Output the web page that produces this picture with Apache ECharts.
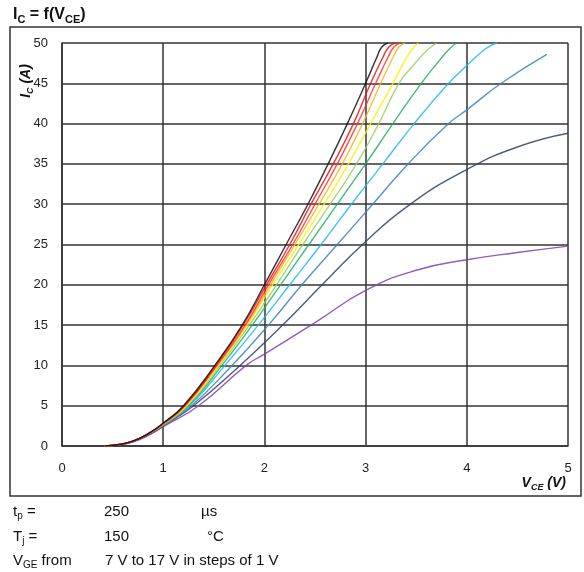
<!DOCTYPE html>
<html><head><meta charset="utf-8">
<script src="https://cdn.jsdelivr.net/npm/echarts@6/dist/echarts.min.js"></script>
<style>html,body{margin:0;padding:0;background:#fff}#c{width:584px;height:572px}</style>
</head><body><div id="c"></div>
<script>
// VCE (V), IC (A), one array per gate voltage
const vge7  = [[0.42,0],[0.55,0.12],[0.7,0.5],[0.85,1.3],[1.0,2.4],[1.35,5],[1.82,10],[2.0,11.4],[2.5,15.3],[3.0,19.3],[3.5,21.8],[4.0,23.1],[4.5,24.0],[5.0,24.8]];
const vge8  = [[0.42,0],[0.55,0.14],[0.7,0.55],[0.85,1.4],[1.0,2.5],[1.3,5],[1.76,10],[2.18,15],[2.57,20],[2.97,25],[3.42,29.8],[4.0,34.3],[4.5,37.1],[5.0,38.8]];
const vge9  = [[0.42,0],[0.55,0.14],[0.7,0.58],[0.85,1.45],[1.0,2.55],[1.28,5],[1.68,10],[2.04,15],[2.37,20],[2.72,25],[3.07,30],[3.42,35],[3.82,40],[4.0,41.7],[4.34,45],[4.79,48.6]];
const vge10 = [[0.42,0],[0.55,0.15],[0.7,0.6],[0.85,1.5],[1.0,2.6],[1.26,5],[1.61,10],[1.94,15],[2.25,20],[2.56,25],[2.86,30],[3.17,35],[3.48,40],[3.82,45],[4.0,47.2],[4.12,48.6],[4.21,49.5],[4.3,50]];
const vge11 = [[0.42,0],[0.55,0.15],[0.7,0.6],[0.85,1.5],[1.0,2.6],[1.25,5],[1.58,10],[1.88,15],[2.16,20],[2.44,25],[2.72,30],[3.0,35],[3.27,40],[3.55,45],[3.74,48],[3.83,49.3],[3.9,50]];
const vge12 = [[0.42,0],[0.55,0.15],[0.7,0.6],[0.85,1.5],[1.0,2.65],[1.24,5],[1.56,10],[1.85,15],[2.12,20],[2.38,25],[2.65,30],[2.91,35],[3.13,40],[3.33,45],[3.47,47.2],[3.6,49],[3.7,50]];
const vge13 = [[0.42,0],[0.55,0.15],[0.7,0.6],[0.85,1.5],[1.0,2.7],[1.23,5],[1.55,10],[1.83,15],[2.08,20],[2.34,25],[2.59,30],[2.83,35],[3.05,40],[3.27,45],[3.43,48.7],[3.52,50]];
const vge14 = [[0.42,0],[0.55,0.15],[0.7,0.6],[0.85,1.5],[1.0,2.7],[1.22,5],[1.54,10],[1.82,15],[2.06,20],[2.3,25],[2.54,30],[2.77,35],[2.97,40],[3.15,45],[3.27,48.2],[3.33,49.5],[3.39,50]];
const vge15 = [[0.42,0],[0.55,0.15],[0.7,0.6],[0.85,1.5],[1.0,2.75],[1.215,5],[1.53,10],[1.81,15],[2.04,20],[2.28,25],[2.5,30],[2.72,35],[2.92,40],[3.1,45],[3.22,48.2],[3.28,49.5],[3.34,50]];
const vge16 = [[0.42,0],[0.55,0.15],[0.7,0.6],[0.85,1.5],[1.0,2.8],[1.21,5],[1.52,10],[1.79,15],[2.02,20],[2.25,25],[2.46,30],[2.68,35],[2.88,40],[3.05,45],[3.17,48.2],[3.23,49.5],[3.29,50]];
const vge17 = [[0.42,0],[0.55,0.15],[0.7,0.6],[0.85,1.5],[1.0,2.85],[1.2,5],[1.51,10],[1.78,15],[2.0,20],[2.215,25],[2.43,30],[2.63,35],[2.82,40],[3.0,45],[3.11,48.2],[3.16,49.5],[3.22,50]];

const curveNames = ['7 V','8 V','9 V','10 V','11 V','12 V','13 V','14 V','15 V','16 V','17 V'];
const curveData  = [vge7, vge8, vge9, vge10, vge11, vge12, vge13, vge14, vge15, vge16, vge17];
const curveColors = ['#8040B0','#2A3F6A','#3A80C0','#20B8F0','#20B060','#98D060','#FFF000','#FFB020','#FF3030','#E81010','#111111'];

const xMin = 0, xMax = 5, xStep = 1;
const yMin = 0, yMax = 50, yStep = 5;

const FONT = '"Liberation Sans", Arial, sans-serif';
const chart = echarts.init(document.getElementById('c'), null, {renderer: 'canvas'});

const series = curveData.map((d, i) => ({
  name: curveNames[i], type: 'line', data: d, showSymbol: false,
  smooth: 0.5, clip: true, silent: true,
  lineStyle: {color: curveColors[i], width: 1.4, opacity: 0.85}
}));

const gridLine = {show: true, lineStyle: {color: '#333', width: 1.5}};

chart.setOption({
  animation: false,
  backgroundColor: '#fff',
  textStyle: {fontFamily: FONT},
  grid: {left: 62, right: 16, top: 43, bottom: 126, containLabel: false},
  xAxis: {
    type: 'value', min: xMin, max: xMax, interval: xStep,
    axisLine: {show: true, lineStyle: {color: '#333', width: 1.5}},
    axisTick: {show: false},
    splitLine: gridLine,
    axisLabel: {color: '#222', fontSize: 13, margin: 16, fontFamily: FONT}
  },
  yAxis: {
    type: 'value', min: yMin, max: yMax, interval: yStep,
    axisLine: {show: true, lineStyle: {color: '#333', width: 1.5}},
    axisTick: {show: false},
    splitLine: gridLine,
    axisLabel: {color: '#222', fontSize: 13, margin: 14, fontFamily: FONT}
  },
  series: series,
  graphic: [
    {type: 'rect', shape: {x: 10, y: 27, width: 571, height: 469}, style: {fill: 'none', stroke: '#333', lineWidth: 1.5}, silent: true, z: -1},
    {type: 'text', x: 13, y: 15, style: {
      text: '{m|I}{s|C}{m| = f(V}{s|CE}{m|)}', fill: '#111', verticalAlign: 'middle', align: 'left',
      rich: {m: {fontSize: 16, fontWeight: 'bold', fontFamily: FONT, lineHeight: 20, fill: '#111'},
             s: {fontSize: 11, fontWeight: 'bold', fontFamily: FONT, lineHeight: 11, verticalAlign: 'bottom', fill: '#111'}}
    }},
    {type: 'text', x: 26, y: 81, rotation: Math.PI / 2, style: {
      text: '{m|I}{s|C}{m| (A)}', fill: '#111', verticalAlign: 'middle', align: 'center',
      rich: {m: {fontSize: 14, fontWeight: 'bold', fontStyle: 'italic', fontFamily: FONT, lineHeight: 18, fill: '#111'},
             s: {fontSize: 9, fontWeight: 'bold', fontStyle: 'italic', fontFamily: FONT, lineHeight: 9, verticalAlign: 'bottom', fill: '#111'}}
    }},
    {type: 'text', x: 566, y: 483, style: {
      text: '{m|V}{s|CE}{m| (V)}', fill: '#111', verticalAlign: 'middle', align: 'right',
      rich: {m: {fontSize: 14, fontWeight: 'bold', fontStyle: 'italic', fontFamily: FONT, lineHeight: 18, fill: '#111'},
             s: {fontSize: 9, fontWeight: 'bold', fontStyle: 'italic', fontFamily: FONT, lineHeight: 9, verticalAlign: 'bottom', fill: '#111'}}
    }},
    {type: 'text', x: 13, y: 512, style: {text: '{m|t}{s|p}{m| =}', verticalAlign: 'middle', align: 'left',
      rich: {m: {fontSize: 15, fontFamily: FONT, lineHeight: 18, fill: '#111'}, s: {fontSize: 10, fontFamily: FONT, lineHeight: 10, verticalAlign: 'bottom', fill: '#111'}}}},
    {type: 'text', x: 104, y: 512, style: {text: '250', font: '15px ' + FONT, fill: '#111', verticalAlign: 'middle', align: 'left'}},
    {type: 'text', x: 201, y: 512, style: {text: 'µs', font: '15px ' + FONT, fill: '#111', verticalAlign: 'middle', align: 'left'}},
    {type: 'text', x: 13, y: 537, style: {text: '{m|T}{s|j}{m| =}', verticalAlign: 'middle', align: 'left',
      rich: {m: {fontSize: 15, fontFamily: FONT, lineHeight: 18, fill: '#111'}, s: {fontSize: 10, fontFamily: FONT, lineHeight: 10, verticalAlign: 'bottom', fill: '#111'}}}},
    {type: 'text', x: 104, y: 537, style: {text: '150', font: '15px ' + FONT, fill: '#111', verticalAlign: 'middle', align: 'left'}},
    {type: 'text', x: 207, y: 537, style: {text: '°C', font: '15px ' + FONT, fill: '#111', verticalAlign: 'middle', align: 'left'}},
    {type: 'text', x: 13, y: 561, style: {text: '{m|V}{s|GE}{m| from}', verticalAlign: 'middle', align: 'left',
      rich: {m: {fontSize: 15, fontFamily: FONT, lineHeight: 18, fill: '#111'}, s: {fontSize: 10, fontFamily: FONT, lineHeight: 10, verticalAlign: 'bottom', fill: '#111'}}}},
    {type: 'text', x: 105, y: 561, style: {text: '7 V to 17 V in steps of 1 V', font: '15px ' + FONT, fill: '#111', verticalAlign: 'middle', align: 'left'}}
  ]
});
</script>
</body></html>
